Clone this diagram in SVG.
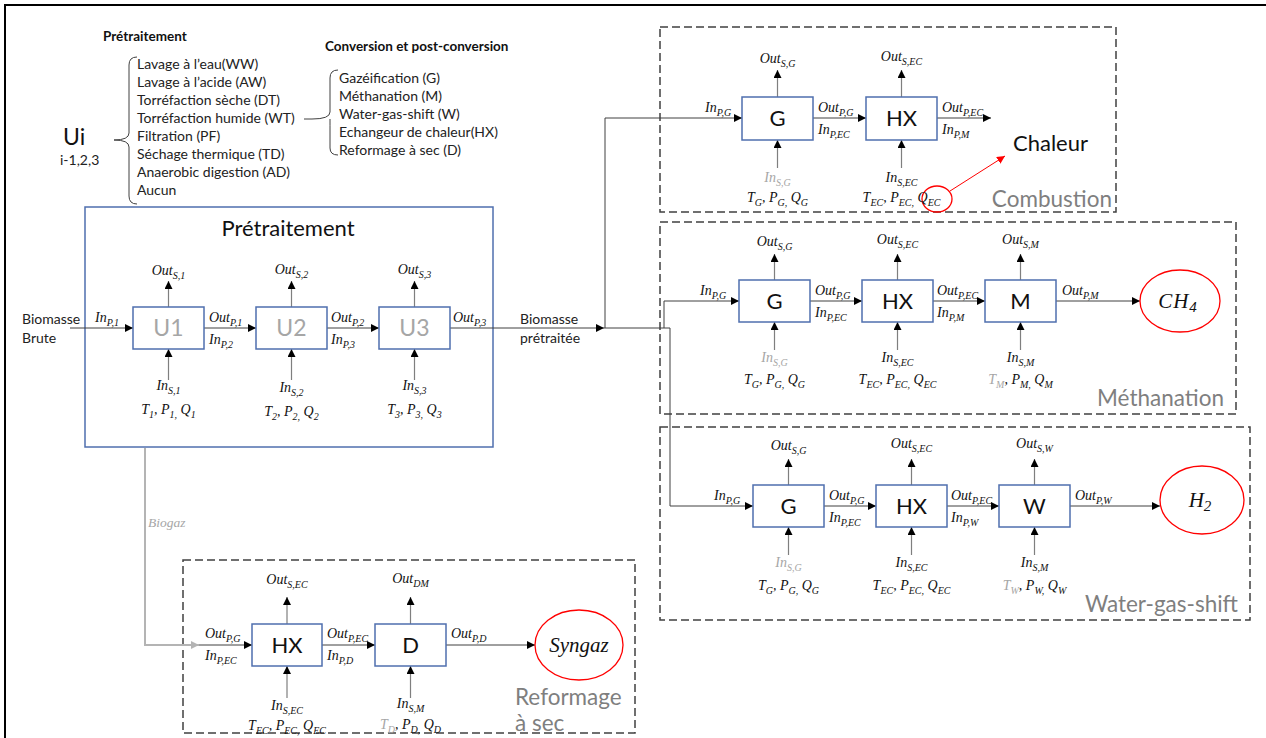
<svg xmlns="http://www.w3.org/2000/svg" width="1266" height="738" viewBox="0 0 1266 738">
<defs>
<marker id="ah" viewBox="0 0 10 10" refX="10" refY="5" markerWidth="8" markerHeight="8" markerUnits="userSpaceOnUse" orient="auto"><path d="M0,0 L10,5 L0,10 z" fill="#000"/></marker>
<marker id="ahg" viewBox="0 0 10 10" refX="10" refY="5" markerWidth="8" markerHeight="8" markerUnits="userSpaceOnUse" orient="auto"><path d="M0,0 L10,5 L0,10 z" fill="#B4B4B4"/></marker>
<marker id="ahr" viewBox="0 0 10 10" refX="10" refY="5" markerWidth="8" markerHeight="8" markerUnits="userSpaceOnUse" orient="auto"><path d="M0,0 L10,5 L0,10 z" fill="#FF0000"/></marker>
</defs>
<style>
.sans{font-family:Lato,"Liberation Sans",sans-serif;}
.t13{font-family:Lato,"Liberation Sans",sans-serif;font-size:14px;fill:#222;}
.hdr{font-family:Lato,"Liberation Sans",sans-serif;font-size:13.5px;font-weight:bold;fill:#111;}
.m{font-family:"Liberation Serif",serif;font-style:italic;font-size:14px;fill:#111;}
.mg{font-family:"Liberation Serif",serif;font-style:italic;font-size:14px;fill:#A6A6A6;}
.s{font-size:10px;}
.big{font-family:Lato,"Liberation Sans",sans-serif;font-size:22px;fill:#111;}
.ulab{font-family:Lato,"Liberation Sans",sans-serif;font-size:23px;fill:#A6A6A6;}
.sec{font-family:Lato,"Liberation Sans",sans-serif;font-size:22.5px;fill:#7F7F7F;}
.unit{fill:#fff;stroke:#4F6FAE;stroke-width:1.5;}
.dash{fill:none;stroke:#404040;stroke-width:1.5;stroke-dasharray:8 4;}
.ln{fill:none;stroke:#404040;stroke-width:1;}
.vl{fill:none;stroke:#7F7F7F;stroke-width:1.2;}
.prod{fill:#fff;stroke:#FF0000;stroke-width:1.3;}
</style>
<rect x="0" y="0" width="1266" height="738" fill="#fff"/>
<rect x="5" y="5" width="1275" height="745" fill="none" stroke="#000" stroke-width="2"/>

<g id="legend">
<text class="hdr" x="103" y="41">Prétraitement</text>
<text class="hdr" x="325" y="51" font-size="14">Conversion et post-conversion</text>
<text class="sans" x="63" y="145" font-size="23" fill="#111">Ui</text>
<text class="t13" x="60" y="165">i-1,2,3</text>
<path d="M137,57 Q129,57 129,65 L129,133 Q129,140 114,140 Q129,140 129,147 L129,196 Q129,204 137,204" fill="none" stroke="#404040" stroke-width="1"/>
<text class="t13" x="137" y="69">Lavage à l’eau(WW)</text>
<text class="t13" x="137" y="87">Lavage à l’acide (AW)</text>
<text class="t13" x="137" y="105">Torréfaction sèche (DT)</text>
<text class="t13" x="137" y="123">Torréfaction humide (WT)</text>
<text class="t13" x="137" y="141">Filtration (PF)</text>
<text class="t13" x="137" y="159">Séchage thermique (TD)</text>
<text class="t13" x="137" y="177">Anaerobic digestion (AD)</text>
<text class="t13" x="137" y="195">Aucun</text>
<path d="M304,119 L312,119 Q330,119 330,112 L330,78 Q330,70 338,70 M330,119 Q330,126 330,130 L330,148 Q330,155 338,155" fill="none" stroke="#404040" stroke-width="1"/>
<text class="t13" x="339" y="83">Gazéification (G)</text>
<text class="t13" x="339" y="101">Méthanation (M)</text>
<text class="t13" x="339" y="119">Water-gas-shift (W)</text>
<text class="t13" x="339" y="137">Echangeur de chaleur(HX)</text>
<text class="t13" x="339" y="155">Reformage à sec (D)</text>
</g>

<g id="pretraitement">
<rect x="85" y="207" width="408" height="240" fill="none" stroke="#4F6FAE" stroke-width="1.5"/>
<text class="big" x="288" y="236" text-anchor="middle" font-size="23">Prétraitement</text>
</g>
<g id="combustion"><rect class="dash" x="660" y="27" width="456" height="185"/><text class="sec" x="1112" y="207" text-anchor="end">Combustion</text></g>
<g id="methanation"><rect class="dash" x="660" y="222" width="576" height="192"/><text class="sec" x="1224" y="406" text-anchor="end">Méthanation</text></g>
<g id="wgs"><rect class="dash" x="660" y="427" width="590" height="193"/><text class="sec" x="1238" y="612" text-anchor="end">Water-gas-shift</text></g>
<g id="reformage"><rect class="dash" x="183" y="560" width="452" height="173"/><text class="sec" x="515" y="705">Reformage</text><text class="sec" x="515" y="731">à sec</text></g>

<g id="connectors">
<line class="ln" x1="70" y1="328" x2="133" y2="328" marker-end="url(#ah)"/>
<line class="ln" x1="204" y1="328" x2="256" y2="328" marker-end="url(#ah)"/>
<line class="ln" x1="327" y1="328" x2="379" y2="328" marker-end="url(#ah)"/>
<line class="ln" x1="450" y1="328" x2="604" y2="328" marker-end="url(#ah)"/>
<line class="vl" x1="168.5" y1="307" x2="168.5" y2="281" marker-end="url(#ah)"/>
<line class="vl" x1="291.5" y1="307" x2="291.5" y2="281" marker-end="url(#ah)"/>
<line class="vl" x1="414.5" y1="307" x2="414.5" y2="281" marker-end="url(#ah)"/>
<line class="vl" x1="168.5" y1="380" x2="168.5" y2="349" marker-end="url(#ah)"/>
<line class="vl" x1="291.5" y1="380" x2="291.5" y2="349" marker-end="url(#ah)"/>
<line class="vl" x1="414.5" y1="380" x2="414.5" y2="349" marker-end="url(#ah)"/>
<polyline class="ln" points="605,328 605,118 742,118" marker-end="url(#ah)"/>
<polyline class="ln" points="604,328 664,328 664,301 739,301" marker-end="url(#ah)"/>
<polyline class="ln" points="664,328 670,328 670,506 753,506" marker-end="url(#ah)"/>
<line class="ln" x1="813" y1="118" x2="866" y2="118" marker-end="url(#ah)"/>
<line class="ln" x1="937" y1="118" x2="991" y2="118" marker-end="url(#ah)"/>
<line class="vl" x1="777.5" y1="97" x2="777.5" y2="70" marker-end="url(#ah)"/>
<line class="vl" x1="901.5" y1="97" x2="901.5" y2="70" marker-end="url(#ah)"/>
<line class="vl" x1="777.5" y1="168" x2="777.5" y2="140" marker-end="url(#ah)"/>
<line class="vl" x1="901.5" y1="168" x2="901.5" y2="140" marker-end="url(#ah)"/>
<line x1="950" y1="191" x2="1005" y2="156" stroke="#FF0000" stroke-width="1" marker-end="url(#ahr)"/>
<line class="ln" x1="810" y1="301" x2="862" y2="301" marker-end="url(#ah)"/>
<line class="ln" x1="933" y1="301" x2="985" y2="301" marker-end="url(#ah)"/>
<line class="ln" x1="1056" y1="301" x2="1140" y2="301" marker-end="url(#ah)"/>
<line class="vl" x1="774.5" y1="280" x2="774.5" y2="254" marker-end="url(#ah)"/>
<line class="vl" x1="897.5" y1="280" x2="897.5" y2="254" marker-end="url(#ah)"/>
<line class="vl" x1="1020.5" y1="280" x2="1020.5" y2="254" marker-end="url(#ah)"/>
<line class="vl" x1="774.5" y1="350" x2="774.5" y2="322" marker-end="url(#ah)"/>
<line class="vl" x1="897.5" y1="350" x2="897.5" y2="322" marker-end="url(#ah)"/>
<line class="vl" x1="1020.5" y1="350" x2="1020.5" y2="322" marker-end="url(#ah)"/>
<line class="ln" x1="824" y1="506" x2="876" y2="506" marker-end="url(#ah)"/>
<line class="ln" x1="947" y1="506" x2="999" y2="506" marker-end="url(#ah)"/>
<line class="ln" x1="1070" y1="506" x2="1160" y2="506" marker-end="url(#ah)"/>
<line class="vl" x1="788.5" y1="485" x2="788.5" y2="459" marker-end="url(#ah)"/>
<line class="vl" x1="911.5" y1="485" x2="911.5" y2="459" marker-end="url(#ah)"/>
<line class="vl" x1="1034.5" y1="485" x2="1034.5" y2="459" marker-end="url(#ah)"/>
<line class="vl" x1="788.5" y1="555" x2="788.5" y2="527" marker-end="url(#ah)"/>
<line class="vl" x1="911.5" y1="555" x2="911.5" y2="527" marker-end="url(#ah)"/>
<line class="vl" x1="1034.5" y1="555" x2="1034.5" y2="527" marker-end="url(#ah)"/>
<polyline points="145,448 145,645 199,645" fill="none" stroke="#B4B4B4" stroke-width="2" marker-end="url(#ahg)"/>
<line class="ln" x1="199" y1="645" x2="252" y2="645" marker-end="url(#ah)"/>
<line class="ln" x1="322" y1="645" x2="375" y2="645" marker-end="url(#ah)"/>
<line class="ln" x1="446" y1="645" x2="535" y2="645" marker-end="url(#ah)"/>
<line class="vl" x1="287" y1="624" x2="287" y2="597" marker-end="url(#ah)"/>
<line class="vl" x1="410.5" y1="624" x2="410.5" y2="597" marker-end="url(#ah)"/>
<line class="vl" x1="287" y1="698" x2="287" y2="666" marker-end="url(#ah)"/>
<line class="vl" x1="410.5" y1="698" x2="410.5" y2="666" marker-end="url(#ah)"/>
</g>

<g id="U1"><rect class="unit" x="133" y="307" width="71" height="42"/><text class="ulab" x="168.5" y="336" text-anchor="middle">U1</text></g>
<g id="U2"><rect class="unit" x="256" y="307" width="71" height="42"/><text class="ulab" x="291.5" y="336" text-anchor="middle">U2</text></g>
<g id="U3"><rect class="unit" x="379" y="307" width="71" height="42"/><text class="ulab" x="414.5" y="336" text-anchor="middle">U3</text></g>
<g id="pre-labels">
<text class="t13" x="22" y="324" font-size="16">Biomasse</text>
<text class="t13" x="22" y="343" font-size="16">Brute</text>
<text class="m" x="95" y="322">In<tspan class="s" dy="3.5">P,1</tspan></text>
<text class="m" x="209" y="322">Out<tspan class="s" dy="3.5">P,1</tspan></text>
<text class="m" x="209" y="344">In<tspan class="s" dy="3.5">P,2</tspan></text>
<text class="m" x="331" y="322">Out<tspan class="s" dy="3.5">P,2</tspan></text>
<text class="m" x="331" y="344">In<tspan class="s" dy="3.5">P,3</tspan></text>
<text class="m" x="453" y="322">Out<tspan class="s" dy="3.5">P,3</tspan></text>
<text class="m" x="168.5" y="275" text-anchor="middle">Out<tspan class="s" dy="3.5">S,1</tspan></text>
<text class="m" x="291.5" y="274" text-anchor="middle">Out<tspan class="s" dy="3.5">S,2</tspan></text>
<text class="m" x="414.5" y="274" text-anchor="middle">Out<tspan class="s" dy="3.5">S,3</tspan></text>
<text class="m" x="168.5" y="390" text-anchor="middle">In<tspan class="s" dy="3.5">S,1</tspan></text>
<text class="m" x="291.5" y="392" text-anchor="middle">In<tspan class="s" dy="3.5">S,2</tspan></text>
<text class="m" x="414.5" y="390" text-anchor="middle">In<tspan class="s" dy="3.5">S,3</tspan></text>
<text class="m" x="168.5" y="414" text-anchor="middle">T<tspan class="s" dy="3.5">1</tspan><tspan dy="-3.5">, P</tspan><tspan class="s" dy="3.5">1,</tspan><tspan dy="-3.5"> Q</tspan><tspan class="s" dy="3.5">1</tspan></text>
<text class="m" x="291.5" y="416" text-anchor="middle">T<tspan class="s" dy="3.5">2</tspan><tspan dy="-3.5">, P</tspan><tspan class="s" dy="3.5">2,</tspan><tspan dy="-3.5"> Q</tspan><tspan class="s" dy="3.5">2</tspan></text>
<text class="m" x="414.5" y="414" text-anchor="middle">T<tspan class="s" dy="3.5">3</tspan><tspan dy="-3.5">, P</tspan><tspan class="s" dy="3.5">3,</tspan><tspan dy="-3.5"> Q</tspan><tspan class="s" dy="3.5">3</tspan></text>
<text class="t13" x="520" y="324" font-size="16">Biomasse</text>
<text class="t13" x="520" y="343" font-size="16">prétraitée</text>
<text x="148" y="527" font-family="Liberation Serif,serif" font-style="italic" font-size="13.5" fill="#A6A6A6">Biogaz</text>
</g>

<g id="comb-G"><rect class="unit" x="742" y="97" width="71" height="43"/><text class="big" x="777.5" y="126" text-anchor="middle">G</text></g>
<g id="comb-HX"><rect class="unit" x="866" y="97" width="71" height="43"/><text class="big" x="901.5" y="126" text-anchor="middle">HX</text></g>
<g id="chaleur"><text class="big" x="1013" y="151">Chaleur</text><ellipse cx="937" cy="199" rx="15" ry="13" fill="none" stroke="#FF0000" stroke-width="1.3"/></g>
<g id="comb-labels">
<text class="m" x="705" y="112">In<tspan class="s" dy="3.5">P,G</tspan></text>
<text class="m" x="818" y="112">Out<tspan class="s" dy="3.5">P,G</tspan></text>
<text class="m" x="818" y="134">In<tspan class="s" dy="3.5">P,EC</tspan></text>
<text class="m" x="942" y="112">Out<tspan class="s" dy="3.5">P,EC</tspan></text>
<text class="m" x="942" y="134">In<tspan class="s" dy="3.5">P,M</tspan></text>
<text class="m" x="777.5" y="63" text-anchor="middle">Out<tspan class="s" dy="3.5">S,G</tspan></text>
<text class="m" x="901.5" y="61" text-anchor="middle">Out<tspan class="s" dy="3.5">S,EC</tspan></text>
<text class="mg" x="777.5" y="182" text-anchor="middle">In<tspan class="s" dy="3.5">S,G</tspan></text>
<text class="m" x="901.5" y="182" text-anchor="middle">In<tspan class="s" dy="3.5">S,EC</tspan></text>
<text class="m" x="777.5" y="202" text-anchor="middle">T<tspan class="s" dy="3.5">G</tspan><tspan dy="-3.5">, P</tspan><tspan class="s" dy="3.5">G,</tspan><tspan dy="-3.5"> Q</tspan><tspan class="s" dy="3.5">G</tspan></text>
<text class="m" x="901.5" y="202" text-anchor="middle">T<tspan class="s" dy="3.5">EC</tspan><tspan dy="-3.5">, P</tspan><tspan class="s" dy="3.5">EC,</tspan><tspan dy="-3.5"> Q</tspan><tspan class="s" dy="3.5">EC</tspan></text>
</g>

<g id="meth-G"><rect class="unit" x="739" y="280" width="71" height="42"/><text class="big" x="774.5" y="309" text-anchor="middle">G</text></g>
<g id="meth-HX"><rect class="unit" x="862" y="280" width="71" height="42"/><text class="big" x="897.5" y="309" text-anchor="middle">HX</text></g>
<g id="meth-M"><rect class="unit" x="985" y="280" width="71" height="42"/><text class="big" x="1020.5" y="309" text-anchor="middle">M</text></g>
<g id="CH4"><ellipse class="prod" cx="1180" cy="301" rx="40" ry="31"/><text x="1178" y="308" text-anchor="middle" font-family="Liberation Serif,serif" font-style="italic" font-size="21" fill="#111" letter-spacing="1">CH<tspan font-size="15" dy="4">4</tspan></text></g>
<g id="meth-labels">
<text class="m" x="700" y="295">In<tspan class="s" dy="3.5">P,G</tspan></text>
<text class="m" x="815" y="295">Out<tspan class="s" dy="3.5">P,G</tspan></text>
<text class="m" x="815" y="317">In<tspan class="s" dy="3.5">P,EC</tspan></text>
<text class="m" x="937" y="295">Out<tspan class="s" dy="3.5">P,EC</tspan></text>
<text class="m" x="937" y="317">In<tspan class="s" dy="3.5">P,M</tspan></text>
<text class="m" x="1062" y="295">Out<tspan class="s" dy="3.5">P,M</tspan></text>
<text class="m" x="774.5" y="246" text-anchor="middle">Out<tspan class="s" dy="3.5">S,G</tspan></text>
<text class="m" x="897.5" y="244" text-anchor="middle">Out<tspan class="s" dy="3.5">S,EC</tspan></text>
<text class="m" x="1020.5" y="244" text-anchor="middle">Out<tspan class="s" dy="3.5">S,M</tspan></text>
<text class="mg" x="774.5" y="362" text-anchor="middle">In<tspan class="s" dy="3.5">S,G</tspan></text>
<text class="m" x="897.5" y="362" text-anchor="middle">In<tspan class="s" dy="3.5">S,EC</tspan></text>
<text class="m" x="1020.5" y="362" text-anchor="middle">In<tspan class="s" dy="3.5">S,M</tspan></text>
<text class="m" x="774.5" y="384" text-anchor="middle">T<tspan class="s" dy="3.5">G</tspan><tspan dy="-3.5">, P</tspan><tspan class="s" dy="3.5">G,</tspan><tspan dy="-3.5"> Q</tspan><tspan class="s" dy="3.5">G</tspan></text>
<text class="m" x="897.5" y="384" text-anchor="middle">T<tspan class="s" dy="3.5">EC</tspan><tspan dy="-3.5">, P</tspan><tspan class="s" dy="3.5">EC,</tspan><tspan dy="-3.5"> Q</tspan><tspan class="s" dy="3.5">EC</tspan></text>
<text class="m" x="1020.5" y="384" text-anchor="middle"><tspan fill="#A6A6A6">T</tspan><tspan fill="#A6A6A6" class="s" dy="3.5">M</tspan><tspan dy="-3.5">, P</tspan><tspan class="s" dy="3.5">M,</tspan><tspan dy="-3.5"> Q</tspan><tspan class="s" dy="3.5">M</tspan></text>
</g>

<g id="wgs-G"><rect class="unit" x="753" y="485" width="71" height="42"/><text class="big" x="788.5" y="514" text-anchor="middle">G</text></g>
<g id="wgs-HX"><rect class="unit" x="876" y="485" width="71" height="42"/><text class="big" x="911.5" y="514" text-anchor="middle">HX</text></g>
<g id="wgs-W"><rect class="unit" x="999" y="485" width="71" height="42"/><text class="big" x="1034.5" y="514" text-anchor="middle">W</text></g>
<g id="H2"><ellipse class="prod" cx="1202" cy="500" rx="42" ry="34"/><text x="1200" y="507" text-anchor="middle" font-family="Liberation Serif,serif" font-style="italic" font-size="21" fill="#111">H<tspan font-size="15" dy="4">2</tspan></text></g>
<g id="wgs-labels">
<text class="m" x="714" y="500">In<tspan class="s" dy="3.5">P,G</tspan></text>
<text class="m" x="829" y="500">Out<tspan class="s" dy="3.5">P,G</tspan></text>
<text class="m" x="829" y="522">In<tspan class="s" dy="3.5">P,EC</tspan></text>
<text class="m" x="951" y="500">Out<tspan class="s" dy="3.5">P,EC</tspan></text>
<text class="m" x="951" y="522">In<tspan class="s" dy="3.5">P,W</tspan></text>
<text class="m" x="1075" y="500">Out<tspan class="s" dy="3.5">P,W</tspan></text>
<text class="m" x="788.5" y="450" text-anchor="middle">Out<tspan class="s" dy="3.5">S,G</tspan></text>
<text class="m" x="911.5" y="448" text-anchor="middle">Out<tspan class="s" dy="3.5">S,EC</tspan></text>
<text class="m" x="1034.5" y="448" text-anchor="middle">Out<tspan class="s" dy="3.5">S,W</tspan></text>
<text class="mg" x="788.5" y="567" text-anchor="middle">In<tspan class="s" dy="3.5">S,G</tspan></text>
<text class="m" x="911.5" y="567" text-anchor="middle">In<tspan class="s" dy="3.5">S,EC</tspan></text>
<text class="m" x="1034.5" y="567" text-anchor="middle">In<tspan class="s" dy="3.5">S,M</tspan></text>
<text class="m" x="788.5" y="590" text-anchor="middle">T<tspan class="s" dy="3.5">G</tspan><tspan dy="-3.5">, P</tspan><tspan class="s" dy="3.5">G,</tspan><tspan dy="-3.5"> Q</tspan><tspan class="s" dy="3.5">G</tspan></text>
<text class="m" x="911.5" y="590" text-anchor="middle">T<tspan class="s" dy="3.5">EC</tspan><tspan dy="-3.5">, P</tspan><tspan class="s" dy="3.5">EC,</tspan><tspan dy="-3.5"> Q</tspan><tspan class="s" dy="3.5">EC</tspan></text>
<text class="m" x="1034.5" y="590" text-anchor="middle"><tspan fill="#A6A6A6">T</tspan><tspan fill="#A6A6A6" class="s" dy="3.5">W</tspan><tspan dy="-3.5">, P</tspan><tspan class="s" dy="3.5">W,</tspan><tspan dy="-3.5"> Q</tspan><tspan class="s" dy="3.5">W</tspan></text>
</g>

<g id="ref-HX"><rect class="unit" x="252" y="624" width="70" height="42"/><text class="big" x="287" y="653" text-anchor="middle">HX</text></g>
<g id="ref-D"><rect class="unit" x="375" y="624" width="71" height="42"/><text class="big" x="410.5" y="653" text-anchor="middle">D</text></g>
<g id="Syngaz"><ellipse class="prod" cx="579" cy="645" rx="44" ry="35"/><text x="579" y="652" text-anchor="middle" font-family="Liberation Serif,serif" font-style="italic" font-size="21" fill="#111">Syngaz</text></g>
<g id="ref-labels">
<text class="m" x="205" y="638">Out<tspan class="s" dy="3.5">P,G</tspan></text>
<text class="m" x="205" y="660">In<tspan class="s" dy="3.5">P,EC</tspan></text>
<text class="m" x="327" y="638">Out<tspan class="s" dy="3.5">P,EC</tspan></text>
<text class="m" x="327" y="660">In<tspan class="s" dy="3.5">P,D</tspan></text>
<text class="m" x="451" y="638">Out<tspan class="s" dy="3.5">P,D</tspan></text>
<text class="m" x="287" y="584" text-anchor="middle">Out<tspan class="s" dy="3.5">S,EC</tspan></text>
<text class="m" x="410.5" y="583" text-anchor="middle">Out<tspan class="s" dy="3.5">DM</tspan></text>
<text class="m" x="287" y="710" text-anchor="middle">In<tspan class="s" dy="3.5">S,EC</tspan></text>
<text class="m" x="410.5" y="708" text-anchor="middle">In<tspan class="s" dy="3.5">S,M</tspan></text>
<text class="m" x="287" y="730" text-anchor="middle">T<tspan class="s" dy="3.5">EC</tspan><tspan dy="-3.5">, P</tspan><tspan class="s" dy="3.5">EC,</tspan><tspan dy="-3.5"> Q</tspan><tspan class="s" dy="3.5">EC</tspan></text>
<text class="m" x="410.5" y="729" text-anchor="middle"><tspan fill="#A6A6A6">T</tspan><tspan fill="#A6A6A6" class="s" dy="3.5">D</tspan><tspan dy="-3.5">, P</tspan><tspan class="s" dy="3.5">D,</tspan><tspan dy="-3.5"> Q</tspan><tspan class="s" dy="3.5">D</tspan></text>
</g>
</svg>
